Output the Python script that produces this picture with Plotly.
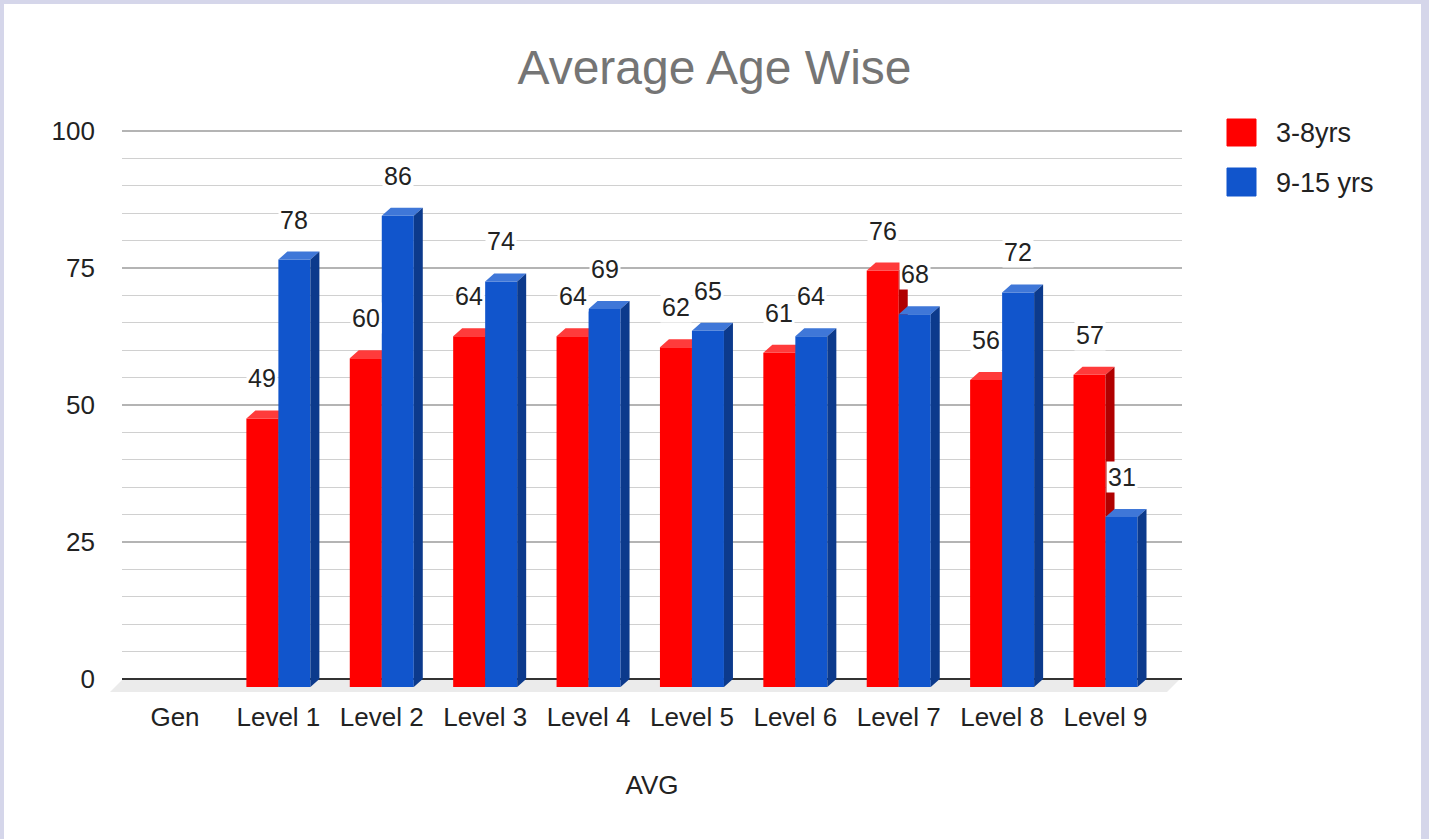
import plotly.graph_objects as go

# ---------------- data ----------------
categories = ["Gen", "Level 1", "Level 2", "Level 3", "Level 4", "Level 5",
              "Level 6", "Level 7", "Level 8", "Level 9"]
series_names = ["3-8yrs", "9-15 yrs"]
young_vals = [None, 49, 60, 64, 64, 62, 61, 76, 56, 57]
old_vals = [None, 78, 86, 74, 69, 65, 64, 68, 72, 31]
y_tick_vals = [0, 25, 50, 75, 100]
y_tick_text = ["0", "25", "50", "75", "100"]

# ---------------- layout geometry (pixels) ----------------
W, H = 1429, 839
PL, PR = 122, 1182          # plot area left/right
PT, PB = 129, 692           # plot area top/bottom
Y100_PX = 131               # pixel row of value 100
PX_PER_CAT = 103.39
PX_PER_Y = 5.48
CAT0_PX = 175
DEPTH_X = 9
DEPTH_Y = 8
BAR_W_PX = 32

x_range = [(PL - CAT0_PX) / PX_PER_CAT, (PR - CAT0_PX) / PX_PER_CAT]
y_range = [-(PB - (Y100_PX + 100 * PX_PER_Y)) / PX_PER_Y,
           100 + (Y100_PX - PT) / PX_PER_Y]
dxu = DEPTH_X / PX_PER_CAT
dyu = DEPTH_Y / PX_PER_Y
bw = BAR_W_PX / PX_PER_CAT


def pxx(p):
    return (p - PL) / (PR - PL)


def pxy(p):
    return (PB - p) / (PB - PT)


RED, RED_TOP, RED_SIDE = "#ff0000", "#ff3b3b", "#b00000"
BLUE, BLUE_TOP, BLUE_SIDE = "#1155cc", "#3f77d8", "#0c3a8c"
FONT = "Liberation Sans, Arial, sans-serif"


def faces(vals, off):
    fx, fy, tx, ty, sx, sy = [], [], [], [], [], []
    for i, v in enumerate(vals):
        if v is None:
            continue
        x0 = i + off
        x1 = x0 + bw
        fx += [x0, x1, x1, x0, x0, None]
        fy += [-dyu, -dyu, v - dyu, v - dyu, -dyu, None]
        tx += [x0, x1, x1 + dxu, x0 + dxu, x0, None]
        ty += [v - dyu, v - dyu, v, v, v - dyu, None]
        sx += [x1, x1 + dxu, x1 + dxu, x1, x1, None]
        sy += [-dyu, 0, v, v - dyu, -dyu, None]
    return (fx, fy), (tx, ty), (sx, sy)


fig = go.Figure()

for vals, off, cols, name in [
    (young_vals, -bw, (RED, RED_TOP, RED_SIDE), series_names[0]),
    (old_vals, 0.0, (BLUE, BLUE_TOP, BLUE_SIDE), series_names[1]),
]:
    for (xs, ys), col in zip(faces(vals, off), cols):
        fig.add_trace(go.Scatter(
            x=xs, y=ys, mode="lines", fill="toself", fillcolor=col,
            line=dict(width=0, color=col), hoverinfo="skip",
            showlegend=False, name=name))

annotations = []
for vals, off in [(young_vals, -bw / 2), (old_vals, bw / 2)]:
    for i, v in enumerate(vals):
        if v is None:
            continue
        annotations.append(dict(
            x=i + off, y=v, xref="x", yref="y", text=str(v), showarrow=False,
            yshift=32, yanchor="middle", xanchor="center",
            font=dict(family=FONT, size=25, color="#222222"),
            bgcolor="white", borderpad=1))

shapes = [
    # white page inside lavender frame
    dict(type="rect", xref="paper", yref="paper", layer="below",
         x0=pxx(4), x1=pxx(1421), y0=pxy(H + 5), y1=pxy(4),
         fillcolor="white", line=dict(width=0)),
    # floor
    dict(type="path", xref="paper", yref="paper", layer="below",
         path=f"M {pxx(110)} {pxy(692)} L {pxx(123)} {pxy(679)} "
              f"L {pxx(1180)} {pxy(679)} L {pxx(1167)} {pxy(692)} Z",
         fillcolor="#ebebeb", line=dict(width=0)),
]
# legend (manual, large squares)
for (y0, y1), col, name in [((119, 146), RED, series_names[0]),
                            ((168, 196), BLUE, series_names[1])]:
    shapes.append(dict(type="rect", xref="paper", yref="paper",
                       x0=pxx(1227), x1=pxx(1256), y0=pxy(y1), y1=pxy(y0),
                       fillcolor=col, line=dict(width=1, color=col)))
    annotations.append(dict(
        x=pxx(1274), y=pxy((y0 + y1) / 2 + 0.5), xref="paper", yref="paper",
        text=name, showarrow=False, xanchor="left", yanchor="middle",
        font=dict(family=FONT, size=27, color="#222222")))

fig.update_layout(
    width=W, height=H,
    margin=dict(l=PL, r=W - PR, t=PT, b=H - PB, pad=0),
    paper_bgcolor="#d5d6ea",
    plot_bgcolor="rgba(0,0,0,0)",
    showlegend=False,
    title=dict(text="Average Age Wise", x=0.5, xref="container",
               y=1 - 67 / H, yref="container", xanchor="center",
               yanchor="middle",
               font=dict(family=FONT, size=48, color="#757575")),
    xaxis=dict(range=x_range, tickvals=list(range(len(categories))),
               ticktext=categories, showgrid=False, zeroline=False,
               showline=False, ticks="", ticklabelstandoff=7,
               tickfont=dict(family=FONT, size=26, color="#222222"),
               title=dict(text="AVG", standoff=44,
                          font=dict(family=FONT, size=26, color="#222222")),
               fixedrange=True),
    yaxis=dict(range=y_range, tickvals=y_tick_vals, ticktext=y_tick_text,
               showgrid=True, gridcolor="#b4b4b4", gridwidth=1.6,
               zeroline=True, zerolinecolor="#333333", zerolinewidth=2,
               showline=False, ticks="", ticklabelstandoff=26,
               tickfont=dict(family=FONT, size=26, color="#222222"),
               minor=dict(dtick=5, tick0=0, showgrid=True,
                          gridcolor="#d0d0d0", gridwidth=1.2),
               fixedrange=True),
    shapes=shapes,
    annotations=annotations,
)

fig.write_html("out.html",
               config={"displayModeBar": False},
               post_script="document.body.style.margin='0';"
                           "document.body.style.overflow='hidden';")
